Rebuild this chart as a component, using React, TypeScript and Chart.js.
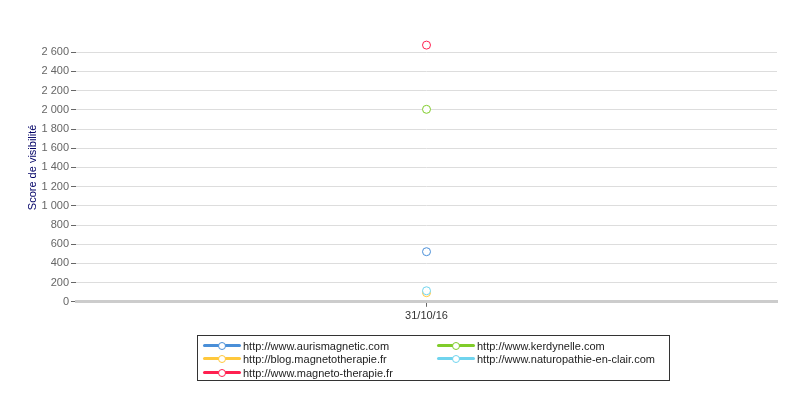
import React, { useEffect, useRef } from "react";
import { Chart, registerables } from "chart.js";

Chart.register(...registerables);

const categories = ["31/10/16"];
const seriesNames = [
  "http://www.aurismagnetic.com",
  "http://www.kerdynelle.com",
  "http://blog.magnetotherapie.fr",
  "http://www.naturopathie-en-clair.com",
  "http://www.magneto-therapie.fr",
];
const seriesColors = ["#4a8fd8", "#80cc2a", "#ffc83c", "#70d4ee", "#ff2050"];
const seriesOrder = [0, 0, 0, -1, 0];
const aurisValues = [522];
const kerdynelleValues = [2005];
const blogValues = [95];
const naturoValues = [115];
const magnetoValues = [2674];
const seriesValues = [aurisValues, kerdynelleValues, blogValues, naturoValues, magnetoValues];
const yTicks = [0, 200, 400, 600, 800, 1000, 1200, 1400, 1600, 1800, 2000, 2200, 2400, 2600];

const fmt = (v: number) => String(v).replace(/\B(?=(\d{3})+(?!\d))/g, "\u00a0");

export default function App() {
  const ref = useRef<HTMLCanvasElement | null>(null);
  useEffect(() => {
    document.body.style.margin = "0";
    const ctx = ref.current!.getContext("2d")!;
    const chart = new Chart(ctx, {
      type: "line",
      data: {
        labels: categories,
        datasets: seriesNames.map((name, i) => ({
          label: name,
          data: seriesValues[i],
          order: seriesOrder[i],
          borderColor: seriesColors[i],
          backgroundColor: "#ffffff",
          pointBackgroundColor: "#ffffff",
          pointBorderColor: seriesColors[i],
          pointBorderWidth: 1,
          pointRadius: 4,
          borderWidth: 3,
        })),
      },
      options: {
        animation: false,
        responsive: false,
        maintainAspectRatio: false,
        layout: { padding: { top: 33, right: 23, bottom: 74, left: 0 } },
        plugins: { legend: { display: false }, tooltip: { enabled: false } },
        scales: {
          x: {
            offset: true,
            grid: { drawOnChartArea: false, drawTicks: true, tickLength: 5, tickColor: "#666" },
            border: { display: true, color: "#cccccc", width: 3 },
            ticks: { color: "#333", font: { family: "Liberation Sans, Arial", size: 11 }, padding: 3 },
          },
          y: {
            min: 0,
            max: 2800,
            afterFit: (s: any) => {
              s.width = 76;
            },
            afterBuildTicks: (s: any) => {
              s.ticks = [...yTicks, 2800].map((v) => ({ value: v }));
            },
            border: { display: false },
            grid: {
              color: (c: any) => (c.tick && c.tick.value === 2800 ? "rgba(0,0,0,0)" : "#dddddd"),
              tickColor: (c: any) => (c.tick && c.tick.value === 2800 ? "rgba(0,0,0,0)" : "#666666"),
              tickLength: 5,
              lineWidth: 1,
            },
            ticks: {
              color: "#666",
              font: { family: "Liberation Sans, Arial", size: 11 },
              padding: 2,
              callback: (v: any) => (v === 2800 ? "" : fmt(Number(v))),
            },
            title: {
              display: true,
              text: "Score de visibilité",
              color: "#000066",
              font: { family: "Liberation Sans, Arial", size: 11 },
              padding: { top: 26, bottom: 0 },
            },
          },
        },
      },
    });
    return () => chart.destroy();
  }, []);

  const item = (i: number) => (
    <div key={i} style={{ display: "flex", alignItems: "center", height: 13.5 }}>
      <div style={{ position: "relative", width: 40, height: 10, marginRight: 2 }}>
        <div style={{ position: "absolute", left: 2, right: 0, top: 3, height: 3, background: seriesColors[i], borderRadius: 2 }} />
        <div
          style={{
            position: "absolute",
            left: 17,
            top: 1,
            width: 6,
            height: 6,
            borderRadius: "50%",
            background: "#fff",
            border: `1px solid ${seriesColors[i]}`,
          }}
        />
      </div>
      <span style={{ whiteSpace: "nowrap" }}>{seriesNames[i]}</span>
    </div>
  );

  return (
    <div style={{ position: "relative", width: 800, height: 400 }}>
      <canvas ref={ref} width={800} height={400} style={{ display: "block" }} />
      <div
        style={{
          position: "absolute",
          left: 197,
          top: 335,
          width: 473,
          height: 46,
          border: "1px solid #333",
          fontFamily: "Liberation Sans, Arial, sans-serif",
          fontSize: 11,
          color: "#222",
          boxSizing: "border-box",
          padding: "3px 0 0 3px",
          display: "grid",
          gridTemplateColumns: "234px 234px",
        }}
      >
        {[0, 1, 2, 3, 4].map((i) => item(i))}
      </div>
    </div>
  );
}
